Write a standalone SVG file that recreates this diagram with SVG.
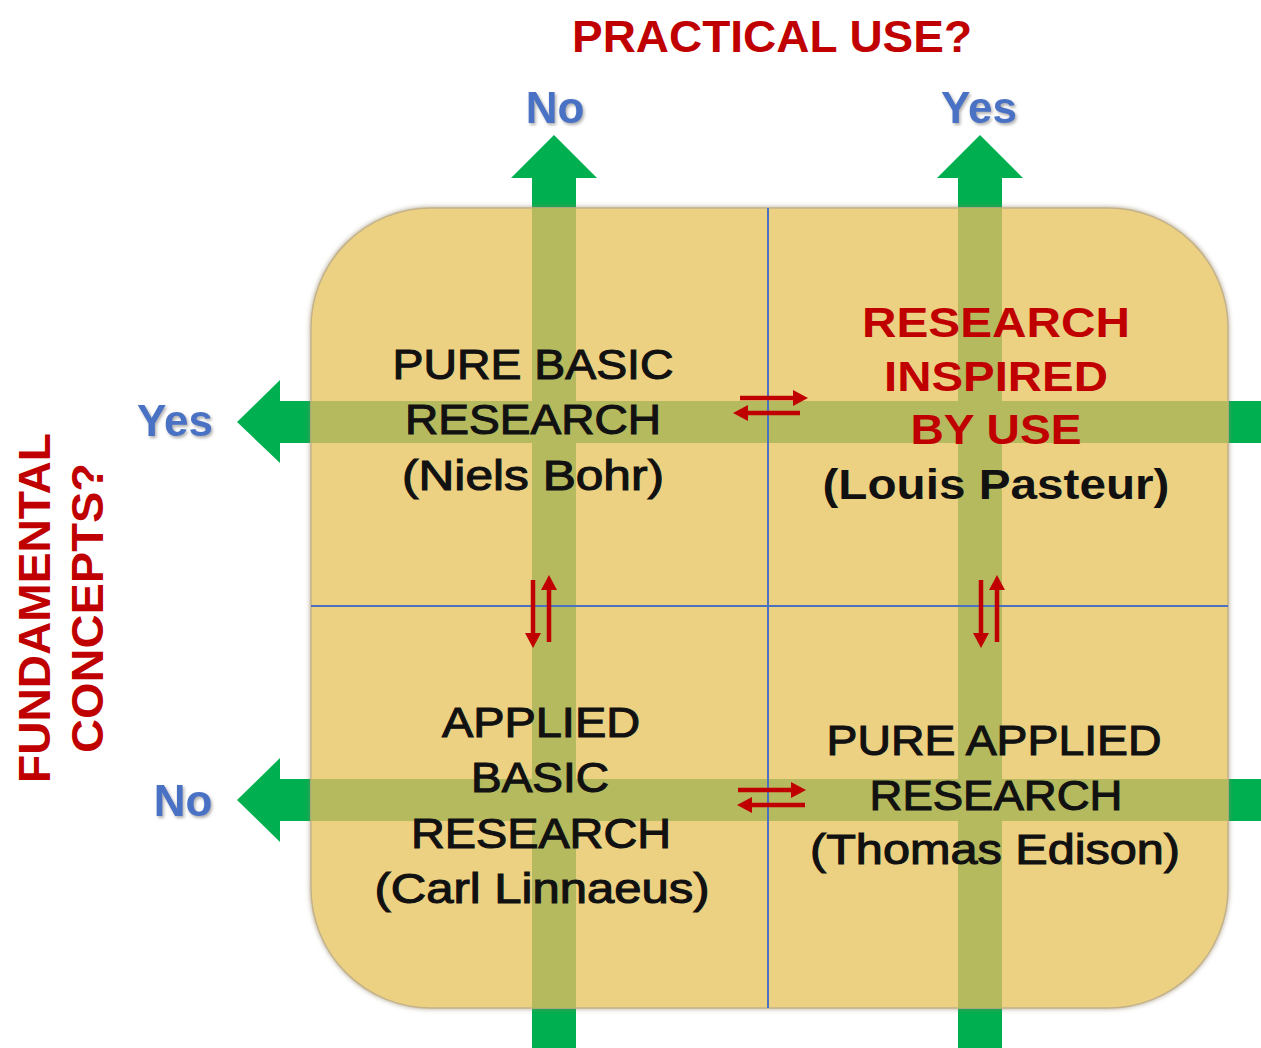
<svg xmlns="http://www.w3.org/2000/svg" width="1261" height="1048" viewBox="0 0 1261 1048">
<defs>
<style>
.ax{fill:#00b050}
.bar{fill:#b5ba5e}
.blue{stroke:#4a72c0;stroke-width:2;fill:none}
.q{font-family:"Liberation Sans",Arial,sans-serif;font-size:42px;fill:#111;stroke:#111;stroke-width:1.1;text-anchor:middle}
.qb{font-family:"Liberation Sans",Arial,sans-serif;font-size:42px;font-weight:bold;fill:#111;text-anchor:middle}
.qr{font-family:"Liberation Sans",Arial,sans-serif;font-size:42px;font-weight:bold;fill:#c00000;text-anchor:middle}
.title{font-family:"Liberation Sans",Arial,sans-serif;font-size:44px;font-weight:bold;fill:#c00000;text-anchor:middle}
.lbl{font-family:"Liberation Sans",Arial,sans-serif;font-size:44px;font-weight:bold;fill:#4a72c4;text-anchor:middle}
.red{stroke:#c00000;stroke-width:4.5;fill:none}
</style>
<filter id="sh" x="-10%" y="-10%" width="120%" height="120%">
<feDropShadow dx="1.5" dy="2" stdDeviation="1.5" flood-color="#777" flood-opacity="0.6"/>
</filter>
<filter id="rsh" x="-5%" y="-5%" width="110%" height="110%">
<feDropShadow dx="0" dy="0" stdDeviation="2.5" flood-color="#8a7a5a" flood-opacity="0.7"/>
</filter>
<clipPath id="rc"><rect x="311" y="208" width="917" height="800" rx="120" ry="120"/></clipPath>
<marker id="ah" markerUnits="userSpaceOnUse" markerWidth="18" markerHeight="18" refX="2" refY="8" orient="auto">
<path d="M0,0 L15,8 L0,16 Z" fill="#c00000"/>
</marker>
</defs>

<g id="axes">
<path class="ax" d="M532,178 H511 L554,135 L597,178 H576 V1048 H532 Z"/>
<path class="ax" d="M958,178 H937 L980,135 L1023,178 H1002 V1048 H958 Z"/>
<path class="ax" d="M280,401 V380 L237,422 L280,463 V443 H1261 V401 Z"/>
<path class="ax" d="M280,779 V758 L237,800 L280,842 V821 H1261 V779 Z"/>
</g>

<g id="grid">
<rect x="311" y="208" width="917" height="800" rx="120" ry="120" fill="#edd182" stroke="#c4b38a" stroke-width="1.5" filter="url(#rsh)"/>
<g clip-path="url(#rc)">
<rect class="bar" x="532" y="200" width="44" height="820"/>
<rect class="bar" x="958" y="200" width="44" height="820"/>
<rect class="bar" x="300" y="401" width="940" height="42"/>
<rect class="bar" x="300" y="779" width="940" height="42"/>
</g>
<line class="blue" x1="768" y1="208" x2="768" y2="1008"/>
<line class="blue" x1="311" y1="606" x2="1228" y2="606"/>
</g>

<g id="connectors">
<line class="red" x1="740" y1="398" x2="795" y2="398" marker-end="url(#ah)"/>
<line class="red" x1="800" y1="413" x2="746" y2="413" marker-end="url(#ah)"/>
<line class="red" x1="738" y1="790" x2="793" y2="790" marker-end="url(#ah)"/>
<line class="red" x1="805" y1="805" x2="750" y2="805" marker-end="url(#ah)"/>
<line class="red" x1="533" y1="580" x2="533" y2="635" marker-end="url(#ah)"/>
<line class="red" x1="549" y1="642" x2="549" y2="588" marker-end="url(#ah)"/>
<line class="red" x1="981" y1="580" x2="981" y2="635" marker-end="url(#ah)"/>
<line class="red" x1="997" y1="642" x2="997" y2="588" marker-end="url(#ah)"/>
</g>

<g id="title-practical">
<text class="title" x="772" y="52" textLength="400" lengthAdjust="spacingAndGlyphs">PRACTICAL USE?</text>
</g>
<g id="title-fundamental">
<text class="title" transform="translate(50,608) rotate(-90)" textLength="350" lengthAdjust="spacingAndGlyphs">FUNDAMENTAL</text>
<text class="title" transform="translate(103,608) rotate(-90)" textLength="290" lengthAdjust="spacingAndGlyphs">CONCEPTS?</text>
</g>

<g id="label-top-no"><text class="lbl" x="555" y="123" filter="url(#sh)">No</text></g>
<g id="label-top-yes"><text class="lbl" x="979" y="123" filter="url(#sh)">Yes</text></g>
<g id="label-left-yes"><text class="lbl" x="175" y="436" filter="url(#sh)">Yes</text></g>
<g id="label-left-no"><text class="lbl" x="183" y="816" filter="url(#sh)">No</text></g>

<g id="pure-basic">
<text class="q" x="533" y="379" textLength="281" lengthAdjust="spacingAndGlyphs">PURE BASIC</text>
<text class="q" x="533" y="434" textLength="256" lengthAdjust="spacingAndGlyphs">RESEARCH</text>
<text class="q" x="533" y="490" textLength="262" lengthAdjust="spacingAndGlyphs">(Niels Bohr)</text>
</g>

<g id="inspired-by-use">
<text class="qr" x="996" y="337" textLength="268" lengthAdjust="spacingAndGlyphs">RESEARCH</text>
<text class="qr" x="996" y="391" textLength="224" lengthAdjust="spacingAndGlyphs">INSPIRED</text>
<text class="qr" x="996" y="444" textLength="171" lengthAdjust="spacingAndGlyphs">BY USE</text>
<text class="qb" x="996" y="499" textLength="347" lengthAdjust="spacingAndGlyphs">(Louis Pasteur)</text>
</g>

<g id="applied-basic">
<text class="q" x="541" y="737" textLength="198" lengthAdjust="spacingAndGlyphs">APPLIED</text>
<text class="q" x="540" y="792" textLength="138" lengthAdjust="spacingAndGlyphs">BASIC</text>
<text class="q" x="541" y="848" textLength="260" lengthAdjust="spacingAndGlyphs">RESEARCH</text>
<text class="q" x="542" y="903" textLength="335" lengthAdjust="spacingAndGlyphs">(Carl Linnaeus)</text>
</g>

<g id="pure-applied">
<text class="q" x="994" y="755" textLength="335" lengthAdjust="spacingAndGlyphs">PURE APPLIED</text>
<text class="q" x="996" y="810" textLength="253" lengthAdjust="spacingAndGlyphs">RESEARCH</text>
<text class="q" x="995" y="864" textLength="370" lengthAdjust="spacingAndGlyphs">(Thomas Edison)</text>
</g>
</svg>
